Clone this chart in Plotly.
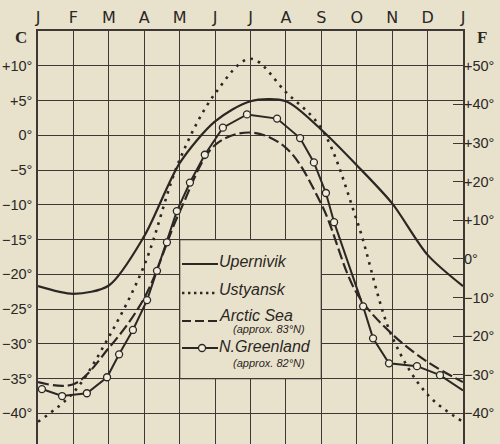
import plotly.graph_objects as go

# ---- data ----
month_labels = ["J", "F", "M", "A", "M", "J", "J", "A", "S", "O", "N", "D", "J"]
month_pos = list(range(13))

upernivik = [-21.7, -22.8, -21.6, -14.5, -4.0, 2.0, 4.9, 4.9, 0.8, -4.3, -9.8, -17.2, -21.7]
ustyansk = [-41.2, -37.0, -29.0, -18.7, -3.5, 6.0, 11.0, 6.2, 1.0, -12.2, -29.0, -37.3, -41.2]
arctic_sea = [-35.5, -35.8, -30.6, -23.4, -11.0, -1.4, 0.4, -1.8, -9.9, -22.7, -28.6, -32.6, -35.5]

greenland_x = [0.11, 0.68, 1.38, 1.95, 2.29, 2.68, 3.08, 3.36, 3.64, 3.92, 4.29, 4.71,
               5.22, 5.90, 6.75, 7.40, 7.79, 8.13, 8.36, 9.18, 9.46, 9.91, 10.70, 11.35, 12.0]
greenland_y = [-36.5, -37.5, -37.1, -34.8, -31.5, -28.0, -23.7, -19.5, -15.4, -10.9, -6.8, -2.8,
               1.1, 3.0, 2.4, -0.4, -3.9, -8.3, -12.5, -24.6, -29.2, -32.8, -33.2, -34.5, -36.7]

c_ticks = [10, 5, 0, -5, -10, -15, -20, -25, -30, -35, -40]
c_labels = ["+10°", "+5°", "0°", "−5°", "−10°", "−15°", "−20°", "−25°", "−30°", "−35°", "−40°"]
f_ticks = [50, 40, 30, 20, 10, 0, -10, -20, -30, -40]
f_labels = ["+50°", "+40°", "+30°", "+20°", "+10°", "0°", "−10°", "−20°", "−30°", "−40°"]

c_range = [-44.4, 15.0]

def c2f(c):
    return c * 9.0 / 5.0 + 32.0

# ---- style ----
BG = "#e8e2cd"
INK = "#2b2723"
GRID = "#3d3833"
FONT = "Liberation Sans"

fig = go.Figure()

fig.add_trace(go.Scatter(x=month_pos, y=upernivik, mode="lines",
                         line=dict(color=INK, width=2.2, shape="spline", smoothing=0.8),
                         showlegend=False, hoverinfo="skip"))
fig.add_trace(go.Scatter(x=month_pos, y=ustyansk, mode="lines",
                         line=dict(color=INK, width=2.6, shape="spline", dash="2.6px,5.5px"),
                         showlegend=False, hoverinfo="skip"))
fig.add_trace(go.Scatter(x=month_pos, y=arctic_sea, mode="lines",
                         line=dict(color=INK, width=2.2, shape="spline", dash="11px,4px"),
                         showlegend=False, hoverinfo="skip"))
fig.add_trace(go.Scatter(x=greenland_x, y=greenland_y, mode="lines",
                         line=dict(color=INK, width=2.0),
                         showlegend=False, hoverinfo="skip"))
fig.add_trace(go.Scatter(x=greenland_x[:-1], y=greenland_y[:-1], mode="markers",
                         marker=dict(size=7, color="#f1eddc", line=dict(color=INK, width=1.3)),
                         showlegend=False, hoverinfo="skip"))
# Fahrenheit axis carrier
fig.add_trace(go.Scatter(x=[], y=[], yaxis="y2", showlegend=False))

# legend box (covers grid, bordered like grid)
shapes = [dict(type="rect", xref="x", yref="y", x0=4, x1=8, y0=-35, y1=-15,
               fillcolor=BG, line=dict(color=GRID, width=1.3), layer="between")]

def px_x(px):
    return (px - 38) / 425.0

def px_y(py):
    return (444 - py) / 413.0

kx0, kx1 = px_x(182), px_x(218)
shapes += [
    dict(type="line", xref="paper", yref="paper", x0=kx0, x1=kx1, y0=px_y(264), y1=px_y(264),
         line=dict(color=INK, width=2.2)),
    dict(type="line", xref="paper", yref="paper", x0=kx0, x1=kx1, y0=px_y(293), y1=px_y(293),
         line=dict(color=INK, width=2.4, dash="2.4px,3.6px")),
    dict(type="line", xref="paper", yref="paper", x0=kx0, x1=kx1, y0=px_y(321), y1=px_y(321),
         line=dict(color=INK, width=2.2, dash="9px,4px")),
    dict(type="line", xref="paper", yref="paper", x0=kx0, x1=kx1, y0=px_y(348), y1=px_y(348),
         line=dict(color=INK, width=2.0)),
    dict(type="circle", xref="paper", yref="paper", xsizemode="pixel", ysizemode="pixel",
         xanchor=px_x(202), yanchor=px_y(348), x0=-3.5, x1=3.5, y0=-3.5, y1=3.5,
         fillcolor="#f1eddc", line=dict(color=INK, width=1.3)),
]

ann_font = dict(family=FONT, size=16, color=INK)
sub_font = dict(family=FONT, size=11, color=INK)
annotations = [
    dict(text="<i>Upernivik</i>", x=px_x(218), y=px_y(261), font=ann_font),
    dict(text="<i>Ustyansk</i>", x=px_x(218), y=px_y(289), font=ann_font),
    dict(text="<i>Arctic Sea</i>", x=px_x(218), y=px_y(315), font=ann_font),
    dict(text="<i>(approx. 83°N)</i>", x=px_x(232), y=px_y(329), font=sub_font),
    dict(text="<i>N.Greenland</i>", x=px_x(218), y=px_y(346.5), font=ann_font),
    dict(text="<i>(approx. 82°N)</i>", x=px_x(232), y=px_y(362.5), font=sub_font),
]
for a in annotations:
    a.update(xref="paper", yref="paper", xanchor="left", yanchor="middle", showarrow=False,
             borderpad=0)

annotations += [
    dict(text="<b>C</b>", x=px_x(21), y=px_y(37), xref="paper", yref="paper",
         xanchor="center", yanchor="middle", showarrow=False,
         font=dict(family="Liberation Serif", size=17, color=INK)),
    dict(text="<b>F</b>", x=px_x(482), y=px_y(37), xref="paper", yref="paper",
         xanchor="center", yanchor="middle", showarrow=False,
         font=dict(family="Liberation Serif", size=17, color=INK)),
]

tick_font = dict(family=FONT, size=14.5, color=INK)

fig.update_layout(
    width=500, height=444,
    margin=dict(l=38, r=37, t=31, b=0, autoexpand=False),
    paper_bgcolor=BG, plot_bgcolor=BG,
    showlegend=False,
    shapes=shapes,
    annotations=annotations,
    xaxis=dict(range=[0, 12], tickvals=month_pos, ticktext=month_labels, side="top",
               showgrid=True, gridcolor=GRID, gridwidth=1.3,
               showline=True, mirror=True, linecolor=GRID, linewidth=1.5,
               zeroline=False, ticks="", ticklabelstandoff=0, automargin=False,
               tickfont=dict(family="DejaVu Sans", size=16, color=INK), fixedrange=True),
    yaxis=dict(range=c_range, tickvals=c_ticks, ticktext=c_labels,
               showgrid=True, gridcolor=GRID, gridwidth=1.3,
               showline=True, mirror=True, linecolor=GRID, linewidth=1.5,
               zeroline=False, ticks="", tickfont=tick_font, fixedrange=True,
               automargin=False, ticklabelstandoff=1),
    yaxis2=dict(range=[c2f(c_range[0]), c2f(c_range[1])], overlaying="y", side="right",
                tickvals=f_ticks, ticktext=f_labels, showgrid=False, zeroline=False,
                showline=False, ticks="inside", ticklen=10, tickwidth=1.3, tickcolor=GRID,
                tickfont=tick_font, fixedrange=True, automargin=False, ticklabelstandoff=0),
)

fig.write_html(
    "out.html",
    config={"displayModeBar": False},
    post_script="document.body.style.margin='0';document.body.style.overflow='hidden';"
                "document.body.style.background='" + BG + "';",
)
